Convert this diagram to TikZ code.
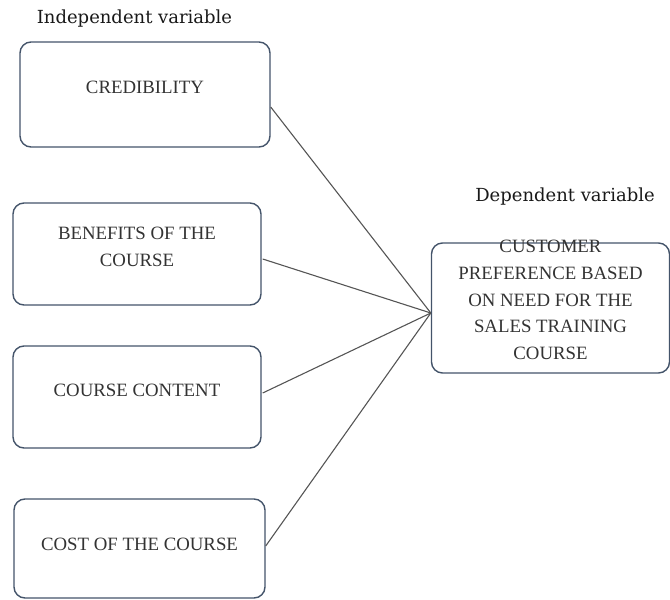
\documentclass[tikz,border=0pt]{standalone}
\usepackage{fontspec}
\setmainfont{Liberation Serif}
\newfontfamily\labelfont{DejaVu Serif}
\definecolor{boxline}{HTML}{44546A}
\definecolor{boxtext}{HTML}{333333}
\definecolor{linkcol}{HTML}{555555}
\begin{document}
\begin{tikzpicture}[x=1bp,y=-1bp,
  varbox/.style={draw=boxline, line width=1.4bp, rounded corners=11bp, fill=white, inner sep=0pt},
  boxlabel/.style={text=boxtext, align=center, font=\fontsize{18.8bp}{26.6bp}\selectfont, inner sep=0pt},
  headlabel/.style={text=black!90, font=\labelfont\fontsize{18bp}{20bp}\selectfont, inner sep=0pt},
  link/.style={draw=linkcol, line width=1.1bp}]
\useasboundingbox (0,0) rectangle (670,600);

\node[varbox, minimum width=250bp, minimum height=105bp] (b1) at (145,94.5) {};
\node[varbox, minimum width=248bp, minimum height=102bp] (b2) at (137,254) {};
\node[varbox, minimum width=248bp, minimum height=102bp] (b3) at (137,397) {};
\node[varbox, minimum width=251bp, minimum height=99bp] (b4) at (139.5,548.5) {};
\node[varbox, minimum width=238bp, minimum height=130bp] (dv) at (550.5,308) {};

\node[boxlabel] (t1) at (145,87) {CREDIBILITY};
\node[boxlabel] (t2) at (137,247) {BENEFITS OF THE\\COURSE};
\node[boxlabel] (t3) at (137,390) {COURSE CONTENT};
\node[boxlabel] (t4) at (139.5,544) {COST OF THE COURSE};
\node[boxlabel] (t5) at (550.5,300) {CUSTOMER\\PREFERENCE BASED\\ON NEED FOR THE\\SALES TRAINING\\COURSE};

\node[headlabel] (iv) at (134.5,19) {Independent variable};
\node[headlabel] (dvl) at (565,197) {Dependent variable};

\coordinate (hub) at ([yshift=-5bp]dv.west);
\draw[link] ([yshift=-12.5bp]b1.east) -- (hub);
\draw[link] ([yshift=-5bp,xshift=1bp]b2.east) -- (hub);
\draw[link] ([yshift=4bp,xshift=1bp]b3.east) -- (hub);
\draw[link] ([yshift=2.5bp]b4.east) -- (hub);
\end{tikzpicture}
\end{document}
